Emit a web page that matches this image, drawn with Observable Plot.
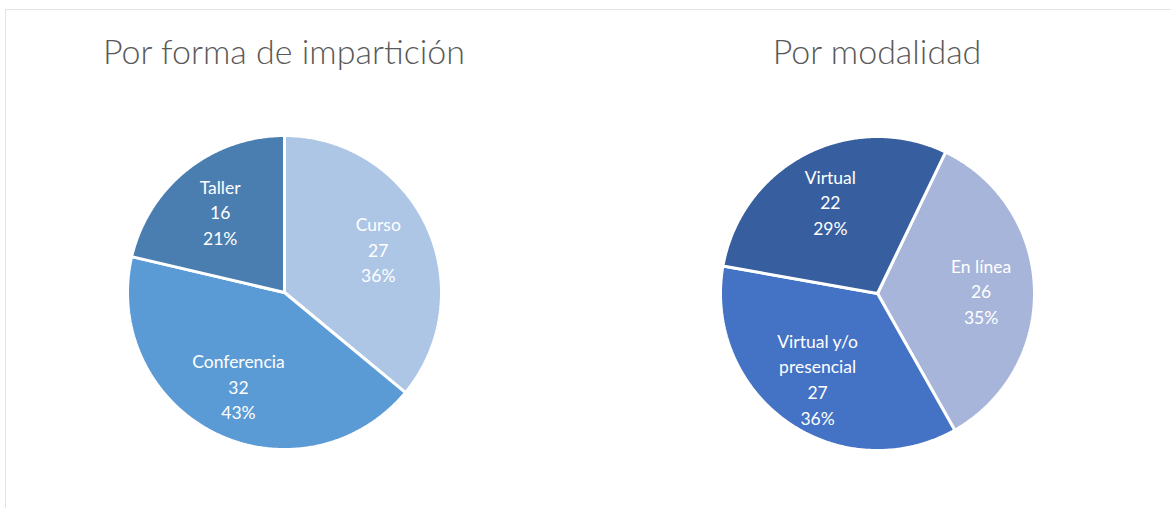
<!DOCTYPE html>
<html>
<head>
<meta charset="utf-8">
<script src="https://cdn.jsdelivr.net/npm/d3@7"></script>
<script src="https://cdn.jsdelivr.net/npm/@observablehq/plot@0.6"></script>
<style>
  html, body { margin: 0; padding: 0; background: #fff; }
  body { width: 1171px; height: 508px; position: relative; overflow: hidden; font-family: Lato, "Open Sans", sans-serif; }
  .frame-top { position: absolute; left: 5px; top: 9px; width: 1166px; height: 0; border-top: 1.5px solid #e3e3e3; }
  .frame-left { position: absolute; left: 5px; top: 9px; width: 0; height: 499px; border-left: 1.5px solid #e3e3e3; }
  .title { position: absolute; color: #595959; font-size: 34px; font-weight: 300; white-space: nowrap; transform: translateX(-50%); line-height: 1; }
  .pie { position: absolute; }
</style>
</head>
<body>
<div class="frame-top"></div>
<div class="frame-left"></div>
<div class="title" id="t1" style="left:284px; top:34px;"></div>
<div class="title" id="t2" style="left:877px; top:34px;"></div>
<div class="pie" id="p1" style="left:114px; top:122px;"></div>
<div class="pie" id="p2" style="left:707px; top:123px;"></div>
<script>
// ---- data ----
const title1 = "Por forma de impartición";
const categories1 = ["Curso", "Conferencia", "Taller"];
const values1 = [27, 32, 16];
const colors1 = ["#adc6e6", "#5b9bd5", "#4a7eb0"];

const title2 = "Por modalidad";
const categories2 = ["En línea", "Virtual y/o\npresencial", "Virtual"];
const values2 = [26, 27, 22];
const colors2 = ["#a7b5da", "#4472c4", "#375f9f"];

// ---- drawing ----
function pieChart(categories, values, colors, startDeg) {
  const total = d3.sum(values);
  const arcs = d3.pie().sort(null).startAngle(startDeg * Math.PI / 180).endAngle(startDeg * Math.PI / 180 + 2 * Math.PI)(values);
  const pts = [];
  const labels = [];
  arcs.forEach((a, i) => {
    const cat = categories[i];
    pts.push({cat, x: 0, y: 0});
    const n = Math.max(2, Math.ceil((a.endAngle - a.startAngle) / (Math.PI / 360)));
    for (let k = 0; k <= n; k++) {
      const t = a.startAngle + (a.endAngle - a.startAngle) * k / n;
      pts.push({cat, x: Math.sin(t), y: Math.cos(t)});
    }
    pts.push({cat, x: 0, y: 0});
    const m = (a.startAngle + a.endAngle) / 2;
    const pct = Math.round(values[i] / total * 100);
    labels.push({cat, x: 0.66 * Math.sin(m), y: 0.66 * Math.cos(m), text: `${cat}\n${values[i]}\n${pct}%`});
  });
  const size = 340, r = 157, mg = (size - 2 * r) / 2;
  return Plot.plot({
    width: size, height: size,
    marginTop: mg, marginBottom: mg, marginLeft: mg, marginRight: mg,
    x: {domain: [-1, 1], axis: null},
    y: {domain: [-1, 1], axis: null},
    color: {domain: categories, range: colors},
    style: {background: "transparent", overflow: "visible"},
    marks: [
      Plot.line(pts, {x: "x", y: "y", z: "cat", fill: "cat", stroke: "white", strokeWidth: 3, strokeLinejoin: "miter"}),
      Plot.text(labels, {x: "x", y: "y", text: "text", fill: "white", fontSize: 17.5, fontWeight: 400, lineHeight: 1.46, lineAnchor: "middle", fontFamily: "Lato, sans-serif"})
    ]
  });
}

document.getElementById("t1").textContent = title1;
document.getElementById("t2").textContent = title2;
document.getElementById("p1").append(pieChart(categories1, values1, colors1, 0));
document.getElementById("p2").append(pieChart(categories2, values2, colors2, 25.7));
</script>
</body>
</html>
